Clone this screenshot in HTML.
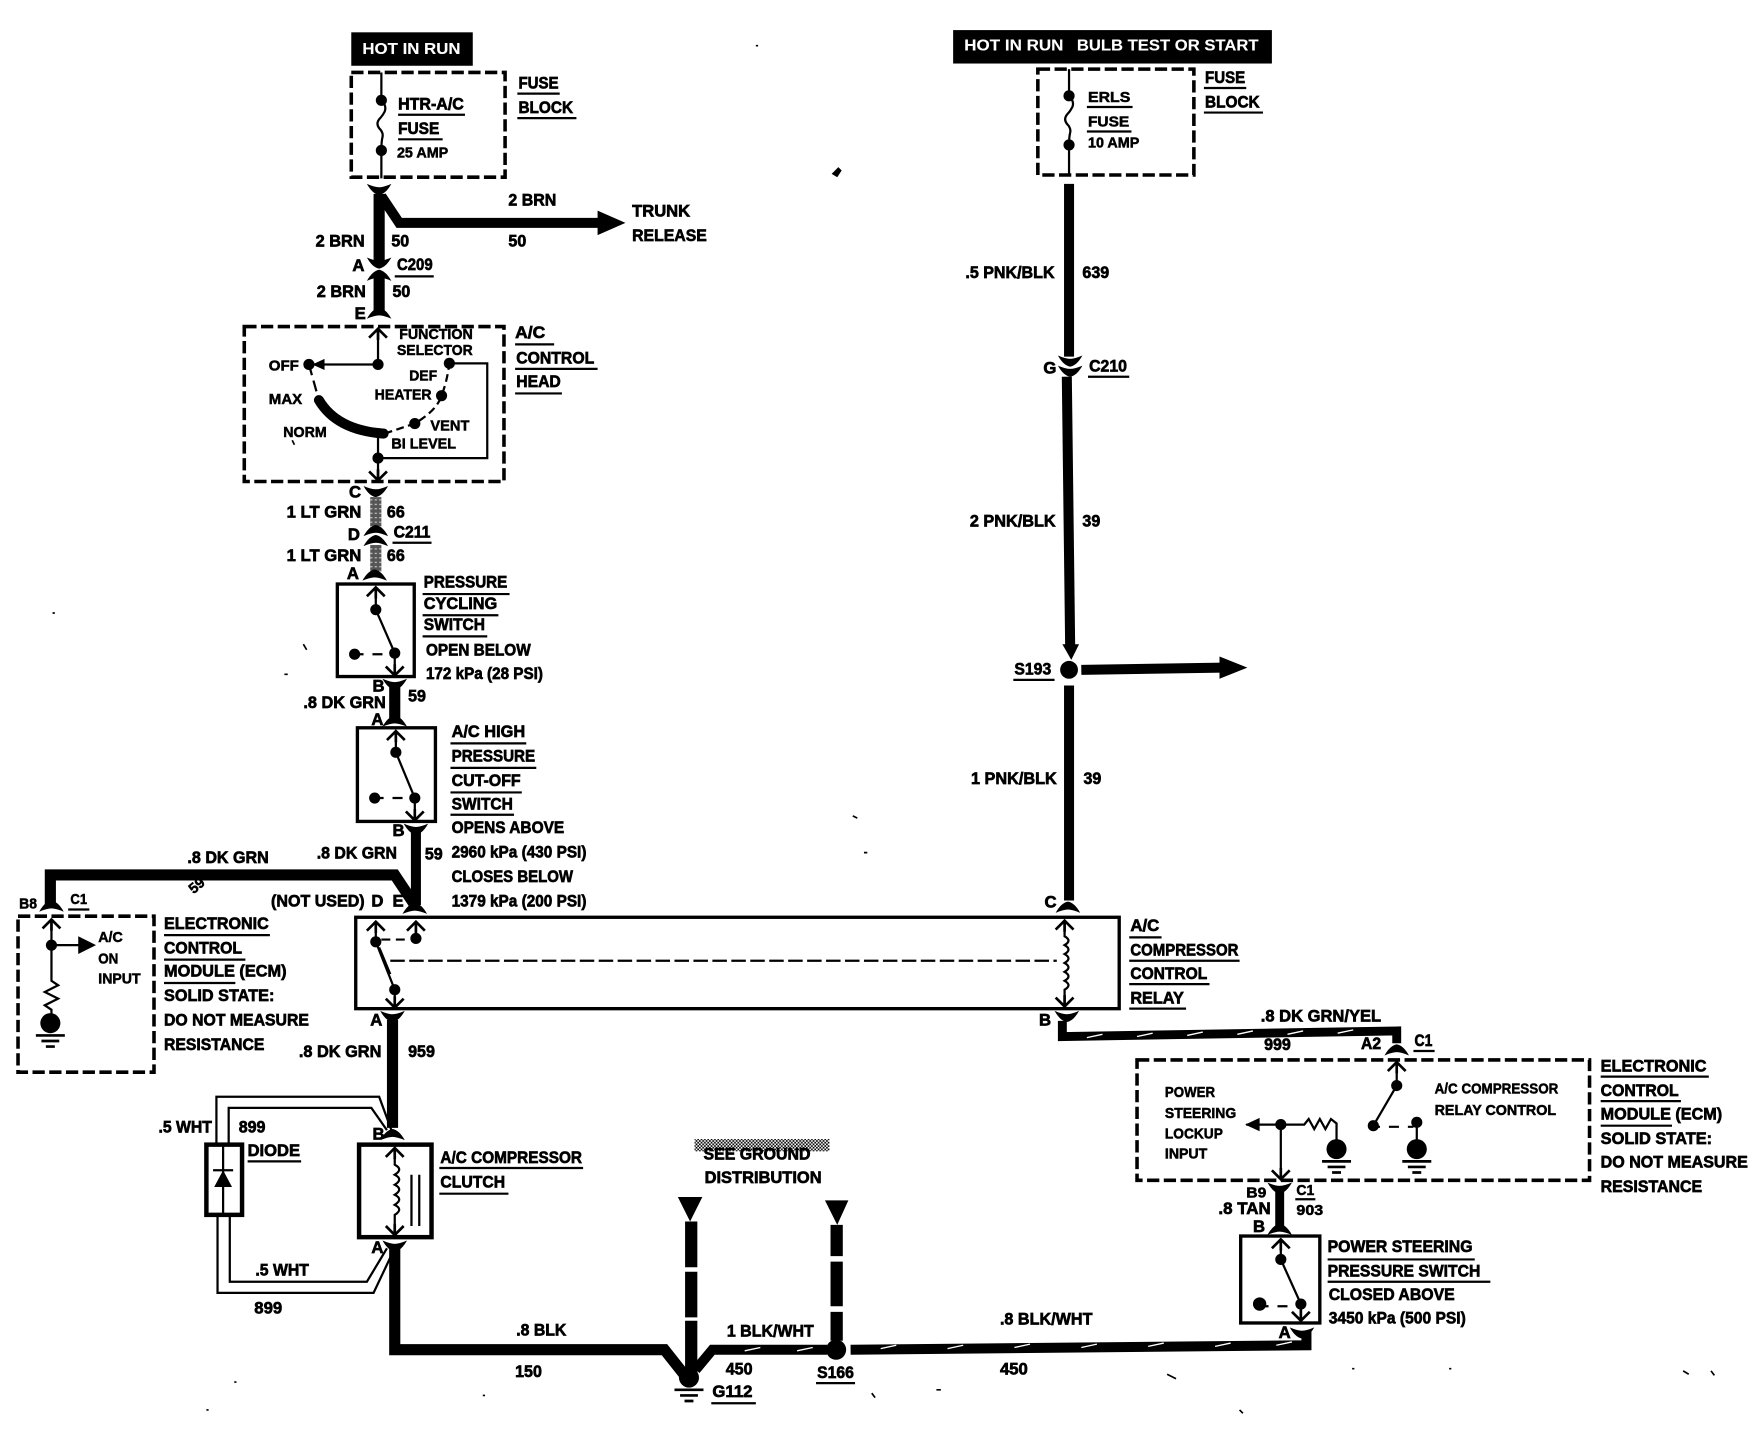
<!DOCTYPE html>
<html><head><meta charset="utf-8"><style>
html,body{margin:0;padding:0;background:#fff}
svg{display:block}
text{font-family:"Liberation Sans",sans-serif;font-weight:bold;font-size:15px;fill:#000;stroke:#000;stroke-width:.6px;transform:translateY(-.7px)}
.s{font-size:13px;stroke-width:.45px}
.w{fill:#fff;stroke:#fff;stroke-width:.1px;font-size:14px}
.t{fill:none;stroke:#000;stroke-width:2}
.d{fill:none;stroke:#000;stroke-width:3.2;stroke-dasharray:11 4}
.u{stroke:#000;stroke-width:2}
.k{fill:none;stroke:#000;stroke-linejoin:miter}
</style></head><body>
<svg xmlns="http://www.w3.org/2000/svg" width="1748" height="1440" viewBox="0 0 1568 1292">
<defs>
<path id="au" d="M-8 8L0 0L8 8M0 0V10" fill="none" stroke="#000" stroke-width="2.4"/>
<path id="ad" d="M-8 -8L0 0L8 -8M0 0V-10" fill="none" stroke="#000" stroke-width="2.4"/>
<path id="cd" d="M-11 -5Q-4 -2 0 -2Q4 -2 11 -5Q6 4 0 5Q-6 4 -11 -5Z" fill="#000"/>
<path id="cu" d="M-11 5Q-4 2 0 2Q4 2 11 5Q6 -4 0 -5Q-6 -4 -11 5Z" fill="#000"/>
<g id="gnd"><circle cx="0" cy="0" r="9" fill="#000"/><path d="M-13 11H13M-8 16H8M-4 21H4" stroke="#000" stroke-width="2.4"/></g>
<pattern id="hatch" width="4" height="4" patternUnits="userSpaceOnUse"><rect width="4" height="4" fill="#555"/><rect width="2" height="1" fill="#ccc"/></pattern>
<pattern id="chk" width="3" height="3" patternUnits="userSpaceOnUse"><rect width="3" height="3" fill="#fff"/><rect width="1.500" height="1.500" fill="#000"/><rect x="1.500" y="1.500" width="1.500" height="1.500" fill="#000"/></pattern>
</defs>

<!-- TOP LEFT -->
<rect x="315" y="29" width="109" height="30" fill="#000"/>
<text class="w" x="325" y="49" textLength="88" lengthAdjust="spacingAndGlyphs">HOT IN RUN</text>
<rect class="d" x="315" y="65" width="138" height="94"/>
<path class="t" stroke-width="2.500" d="M342 65V90M342 135V160"/>
<path class="t" stroke-width="2.500" d="M342 90q5 5 3 10q-2 4 -5 7q-3 4 0 8q4 4 3 8q-1 4 -1 12"/>
<circle cx="342" cy="90" r="5"/><circle cx="342" cy="135" r="5"/>
<text x="357" y="99" textLength="59" lengthAdjust="spacingAndGlyphs">HTR-A/C</text><line class="u" x1="357" y1="103" x2="417" y2="103"/>
<text x="357" y="121" textLength="37" lengthAdjust="spacingAndGlyphs">FUSE</text><line class="u" x1="357" y1="125" x2="397" y2="125"/>
<text class="s" x="356" y="142" textLength="46" lengthAdjust="spacingAndGlyphs">25 AMP</text>
<text x="465" y="80" textLength="36" lengthAdjust="spacingAndGlyphs">FUSE</text><line class="u" x1="464" y1="84" x2="502" y2="84"/>
<text x="465" y="102" textLength="49" lengthAdjust="spacingAndGlyphs">BLOCK</text><line class="u" x1="464" y1="106" x2="517" y2="106"/>
<use href="#cd" x="340" y="170"/>
<path class="k" stroke-width="10" d="M340 174V236"/>
<path class="k" stroke-width="9" d="M342 176L358 200H540"/>
<path d="M536 189L561 200L536 211Z"/>
<text x="283" y="222" textLength="44" lengthAdjust="spacingAndGlyphs">2 BRN</text>
<text x="351" y="222" textLength="16" lengthAdjust="spacingAndGlyphs">50</text>
<text x="456" y="185" textLength="43" lengthAdjust="spacingAndGlyphs">2 BRN</text>
<text x="456" y="222" textLength="16" lengthAdjust="spacingAndGlyphs">50</text>
<text x="567" y="195" textLength="52" lengthAdjust="spacingAndGlyphs">TRUNK</text>
<text x="567" y="217" textLength="67" lengthAdjust="spacingAndGlyphs">RELEASE</text>
<text x="316" y="244">A</text>
<text x="356" y="243" textLength="32" lengthAdjust="spacingAndGlyphs">C209</text><line class="u" x1="354" y1="248" x2="389" y2="248"/>
<use href="#cd" x="340" y="236"/><use href="#cu" x="340" y="247"/>
<path class="k" stroke-width="10" d="M340 248V280"/>
<text x="284" y="267" textLength="44" lengthAdjust="spacingAndGlyphs">2 BRN</text>
<text x="352" y="267" textLength="16" lengthAdjust="spacingAndGlyphs">50</text>
<text x="318" y="287">E</text>
<use href="#cu" x="340" y="281"/>

<!-- A/C CONTROL HEAD -->
<rect class="d" x="219" y="293" width="233" height="139"/>
<use href="#au" x="339" y="295"/>
<path class="t" d="M339 297V327H277"/>
<path d="M291 322L280 327L291 332Z"/>
<circle cx="339" cy="327" r="5"/><circle cx="277" cy="327" r="5"/>
<circle cx="403" cy="326" r="5"/><circle cx="396" cy="355" r="5"/><circle cx="372" cy="380" r="5"/>
<path class="t" d="M403 326H437V411H339"/>
<circle cx="339" cy="411" r="5"/>
<path class="t" d="M339 389V430"/>
<use href="#ad" x="339" y="431"/>
<path class="t" stroke-dasharray="10 5" d="M277 327L284 352"/>
<path class="k" stroke-width="9" stroke-linecap="round" d="M286 359Q302 386 344 389"/>
<path class="t" stroke-width="2.500" stroke-dasharray="7 4" d="M345 389L372 380Q392 368 396 355Q401 342 403 326"/>
<text class="s" x="358" y="305" textLength="66" lengthAdjust="spacingAndGlyphs">FUNCTION</text>
<text class="s" x="356" y="319" textLength="68" lengthAdjust="spacingAndGlyphs">SELECTOR</text>
<text class="s" x="241" y="333" textLength="27" lengthAdjust="spacingAndGlyphs">OFF</text>
<text class="s" x="367" y="342" textLength="25" lengthAdjust="spacingAndGlyphs">DEF</text>
<text class="s" x="336" y="359" textLength="51" lengthAdjust="spacingAndGlyphs">HEATER</text>
<text class="s" x="241" y="363" textLength="30" lengthAdjust="spacingAndGlyphs">MAX</text>
<text class="s" x="254" y="393" textLength="39" lengthAdjust="spacingAndGlyphs">NORM</text>
<text class="s" x="386" y="387" textLength="35" lengthAdjust="spacingAndGlyphs">VENT</text>
<text class="s" x="351" y="403" textLength="58" lengthAdjust="spacingAndGlyphs">BI LEVEL</text>
<text x="462" y="304" textLength="27" lengthAdjust="spacingAndGlyphs">A/C</text><line class="u" x1="462" y1="309" x2="497" y2="309"/>
<text x="463" y="327" textLength="70" lengthAdjust="spacingAndGlyphs">CONTROL</text><line class="u" x1="462" y1="331" x2="536" y2="331"/>
<text x="463" y="348" textLength="40" lengthAdjust="spacingAndGlyphs">HEAD</text><line class="u" x1="462" y1="353" x2="504" y2="353"/>

<text x="313" y="447">C</text>
<use href="#cd" x="337" y="441"/>
<rect x="332" y="446" width="10" height="28" fill="url(#hatch)"/>
<text x="257" y="465" textLength="67" lengthAdjust="spacingAndGlyphs">1 LT GRN</text>
<text x="347" y="465" textLength="16" lengthAdjust="spacingAndGlyphs">66</text>
<text x="312" y="485">D</text>
<use href="#cu" x="337" y="476"/><use href="#cu" x="337" y="485"/>
<text x="353" y="483" textLength="33" lengthAdjust="spacingAndGlyphs">C211</text><line class="u" x1="352" y1="487" x2="387" y2="487"/>
<rect x="332" y="489" width="10" height="24" fill="url(#hatch)"/>
<text x="257" y="504" textLength="67" lengthAdjust="spacingAndGlyphs">1 LT GRN</text>
<text x="347" y="504" textLength="16" lengthAdjust="spacingAndGlyphs">66</text>
<text x="311" y="520">A</text>
<use href="#cu" x="336" y="516"/>

<!-- PRESSURE CYCLING -->
<rect x="302.500" y="524" width="69" height="83" fill="none" stroke="#000" stroke-width="3"/>
<use href="#au" x="337" y="527"/>
<path class="t" d="M337 527V547M354 586V606"/>
<path class="t" stroke-width="3" d="M337 547L354 586"/>
<circle cx="337" cy="547" r="5"/><circle cx="354" cy="586" r="5"/><circle cx="318" cy="587" r="5"/>
<path class="t" stroke-dasharray="6 8 9 8 5" d="M320 587H354"/>
<use href="#ad" x="354" y="606"/>
<text x="380" y="528" textLength="75" lengthAdjust="spacingAndGlyphs">PRESSURE</text><line class="u" x1="379" y1="533" x2="457" y2="533"/>
<text x="380" y="547" textLength="66" lengthAdjust="spacingAndGlyphs">CYCLING</text><line class="u" x1="379" y1="552" x2="447" y2="552"/>
<text x="380" y="566" textLength="55" lengthAdjust="spacingAndGlyphs">SWITCH</text><line class="u" x1="379" y1="571" x2="437" y2="571"/>
<text x="382" y="589" textLength="94" lengthAdjust="spacingAndGlyphs">OPEN BELOW</text>
<text x="382" y="610" textLength="105" lengthAdjust="spacingAndGlyphs">172 kPa (28 PSI)</text>
<text x="334" y="621">B</text>
<use href="#cd" x="354" y="614"/>
<path class="k" stroke-width="10" d="M354 616V646"/>
<text x="272" y="636" textLength="74" lengthAdjust="spacingAndGlyphs">.8 DK GRN</text>
<text x="366" y="630" textLength="16" lengthAdjust="spacingAndGlyphs">59</text>
<text x="333" y="651">A</text>
<use href="#cu" x="354" y="647"/>

<!-- HIGH PRESSURE -->
<rect x="320.500" y="653" width="70" height="84" fill="none" stroke="#000" stroke-width="3"/>
<use href="#au" x="355" y="656"/>
<path class="t" d="M355 656V675M372 716V736"/>
<path class="t" stroke-width="3" d="M355 675L372 716"/>
<circle cx="355" cy="675" r="5"/><circle cx="372" cy="716" r="5"/><circle cx="336" cy="716" r="5"/>
<path class="t" stroke-dasharray="6 8 9 8 5" d="M338 716H372"/>
<use href="#ad" x="372" y="736"/>
<text x="405" y="662" textLength="66" lengthAdjust="spacingAndGlyphs">A/C HIGH</text><line class="u" x1="404" y1="667" x2="472" y2="667"/>
<text x="405" y="684" textLength="75" lengthAdjust="spacingAndGlyphs">PRESSURE</text><line class="u" x1="404" y1="689" x2="481" y2="689"/>
<text x="405" y="706" textLength="62" lengthAdjust="spacingAndGlyphs">CUT-OFF</text><line class="u" x1="404" y1="711" x2="468" y2="711"/>
<text x="405" y="727" textLength="55" lengthAdjust="spacingAndGlyphs">SWITCH</text><line class="u" x1="404" y1="731" x2="461" y2="731"/>
<text x="405" y="748" textLength="101" lengthAdjust="spacingAndGlyphs">OPENS ABOVE</text>
<text x="405" y="770" textLength="121" lengthAdjust="spacingAndGlyphs">2960 kPa (430 PSI)</text>
<text x="405" y="792" textLength="109" lengthAdjust="spacingAndGlyphs">CLOSES BELOW</text>
<text x="405" y="814" textLength="121" lengthAdjust="spacingAndGlyphs">1379 kPa (200 PSI)</text>
<text x="352" y="751">B</text>
<use href="#cd" x="373" y="744"/>
<path class="k" stroke-width="9" d="M373 746V812"/>
<text x="381" y="772" textLength="16" lengthAdjust="spacingAndGlyphs">59</text>
<text x="284" y="771" textLength="72" lengthAdjust="spacingAndGlyphs">.8 DK GRN</text>
<text x="168" y="775" textLength="73" lengthAdjust="spacingAndGlyphs">.8 DK GRN</text>
<g transform="translate(174 803) rotate(-40)"><text class="s" x="0" y="0">59</text></g>
<path class="k" stroke-width="10" d="M45 812V785H354L372 812"/>
<use href="#cu" x="46" y="813"/><use href="#cu" x="372" y="815"/>
<text class="s" x="17" y="816" textLength="16" lengthAdjust="spacingAndGlyphs">B8</text>
<text class="s" x="63" y="812" textLength="15" lengthAdjust="spacingAndGlyphs">C1</text><line class="u" x1="61" y1="816" x2="80" y2="816"/>
<text x="243" y="814" textLength="84" lengthAdjust="spacingAndGlyphs">(NOT USED)</text>
<text x="333" y="814">D</text><text x="352" y="814">E</text>

<!-- LEFT ECM -->
<rect class="d" x="16" y="822" width="122" height="140"/>
<use href="#au" x="46" y="825"/>
<path class="t" d="M46 827V880l6 4l-12 6l12 6l-12 6l6 4V918M46 848H72"/>
<path d="M70 840L86 848L70 856Z"/>
<circle cx="46" cy="848" r="5"/>
<use href="#gnd" x="45" y="918"/>
<text class="s" x="88" y="846" textLength="22" lengthAdjust="spacingAndGlyphs">A/C</text>
<text class="s" x="88" y="865" textLength="18" lengthAdjust="spacingAndGlyphs">ON</text>
<text class="s" x="88" y="883" textLength="38" lengthAdjust="spacingAndGlyphs">INPUT</text>
<text x="147" y="834" textLength="94" lengthAdjust="spacingAndGlyphs">ELECTRONIC</text><line class="u" x1="147" y1="839" x2="242" y2="839"/>
<text x="147" y="856" textLength="70" lengthAdjust="spacingAndGlyphs">CONTROL</text><line class="u" x1="147" y1="861" x2="220" y2="861"/>
<text x="147" y="877" textLength="110" lengthAdjust="spacingAndGlyphs">MODULE (ECM)</text><line class="u" x1="147" y1="882" x2="211" y2="882"/>
<text x="147" y="899" textLength="99" lengthAdjust="spacingAndGlyphs">SOLID STATE:</text>
<text x="147" y="921" textLength="130" lengthAdjust="spacingAndGlyphs">DO NOT MEASURE</text>
<text x="147" y="943" textLength="90" lengthAdjust="spacingAndGlyphs">RESISTANCE</text>

<!-- RELAY -->
<rect x="319" y="823" width="685" height="82" fill="none" stroke="#000" stroke-width="3"/>
<use href="#au" x="337" y="827"/><use href="#au" x="373" y="827"/>
<path class="t" d="M337 827V845L354 888V904M373 827V842"/>
<circle cx="337" cy="845" r="5"/><circle cx="373" cy="842" r="5"/><circle cx="354" cy="888" r="5"/>
<path class="t" stroke-width="3" d="M340 850L350 874"/>
<path class="t" stroke-dasharray="8 5" d="M342 843H368"/>
<path class="t" stroke-dasharray="13 4" d="M350 862H948"/>
<use href="#ad" x="354" y="904"/>
<use href="#au" x="955" y="826"/><use href="#ad" x="955" y="903"/>
<path class="t" d="M955 828V840q7 4 0 8q7 4 0 8q7 4 0 8q7 4 0 8q7 4 0 8q7 4 0 8V903"/>
<text x="332" y="921">A</text>
<use href="#cd" x="352" y="912"/>
<path class="k" stroke-width="10" d="M352 915V1012"/>
<text x="268" y="949" textLength="74" lengthAdjust="spacingAndGlyphs">.8 DK GRN</text>
<text x="366" y="949" textLength="24" lengthAdjust="spacingAndGlyphs">959</text>
<text x="1014" y="836" textLength="26" lengthAdjust="spacingAndGlyphs">A/C</text><line class="u" x1="1013" y1="841" x2="1042" y2="841"/>
<text x="1014" y="858" textLength="97" lengthAdjust="spacingAndGlyphs">COMPRESSOR</text><line class="u" x1="1013" y1="862" x2="1112" y2="862"/>
<text x="1014" y="879" textLength="69" lengthAdjust="spacingAndGlyphs">CONTROL</text><line class="u" x1="1013" y1="883" x2="1085" y2="883"/>
<text x="1014" y="901" textLength="48" lengthAdjust="spacingAndGlyphs">RELAY</text><line class="u" x1="1013" y1="905" x2="1064" y2="905"/>

<!-- DIODE + CLUTCH -->
<path class="t" stroke-width="2.500" d="M194 1026V984H340L351 1014M205 1026V994H333L347 1014"/>
<rect x="185" y="1027" width="32" height="63" fill="none" stroke="#000" stroke-width="4"/>
<path class="t" stroke-width="3" d="M200 1027V1090"/>
<path d="M192 1065L200 1050L208 1065Z"/><path class="t" stroke-width="3" d="M191 1050H209"/>
<text x="142" y="1017" textLength="48" lengthAdjust="spacingAndGlyphs">.5 WHT</text>
<text x="214" y="1017" textLength="24" lengthAdjust="spacingAndGlyphs">899</text>
<text x="222" y="1038" textLength="47" lengthAdjust="spacingAndGlyphs">DIODE</text><line class="u" x1="222" y1="1042" x2="270" y2="1042"/>
<path class="t" stroke-width="2.500" d="M195 1090V1160H335L353 1122M206 1090V1150H329L347 1120"/>
<text x="229" y="1145" textLength="48" lengthAdjust="spacingAndGlyphs">.5 WHT</text>
<text x="228" y="1179" textLength="25" lengthAdjust="spacingAndGlyphs">899</text>
<text x="334" y="1023">B</text>
<use href="#cu" x="352" y="1018"/>
<rect x="322" y="1027" width="65" height="83" fill="none" stroke="#000" stroke-width="4"/>
<use href="#au" x="354" y="1030"/><use href="#ad" x="354" y="1108"/>
<path class="t" d="M354 1030V1045q8 4 0 9q8 4 0 9q8 4 0 9q8 4 0 9q8 4 0 9V1108"/>
<path class="t" d="M369 1054V1100M376 1054V1100"/>
<text x="333" y="1125">A</text>
<text x="395" y="1044" textLength="127" lengthAdjust="spacingAndGlyphs">A/C COMPRESSOR</text><line class="u" x1="394" y1="1048" x2="523" y2="1048"/>
<text x="395" y="1066" textLength="58" lengthAdjust="spacingAndGlyphs">CLUTCH</text><line class="u" x1="394" y1="1071" x2="456" y2="1071"/>
<use href="#cd" x="354" y="1118"/>
<path class="k" stroke-width="10" d="M354 1120V1211H596L615 1235"/>
<text x="463" y="1199" textLength="45" lengthAdjust="spacingAndGlyphs">.8 BLK</text>
<text x="462" y="1236" textLength="24" lengthAdjust="spacingAndGlyphs">150</text>

<!-- GROUND -->
<rect x="623" y="1022" width="121" height="11" fill="url(#chk)"/>
<text x="631" y="1041" textLength="96" lengthAdjust="spacingAndGlyphs">SEE GROUND</text>
<text x="632" y="1062" textLength="105" lengthAdjust="spacingAndGlyphs">DISTRIBUTION</text>
<path d="M608 1074H630L619 1096Z"/><path d="M740 1077H761L751 1099Z"/>
<path class="k" stroke-width="11" d="M620 1096V1137M620 1141V1182M620 1185V1232"/>
<path class="k" stroke-width="11" d="M750.500 1099V1127M750.500 1132V1172M750.500 1177V1203"/>
<path class="k" stroke-width="9" d="M624 1229L639 1211H742"/>
<use href="#gnd" x="618" y="1236"/>
<text x="639" y="1254" textLength="36" lengthAdjust="spacingAndGlyphs">G112</text><line class="u" x1="638" y1="1259" x2="678" y2="1259"/>
<text x="651" y="1234" textLength="24" lengthAdjust="spacingAndGlyphs">450</text>
<text x="652" y="1200" textLength="78" lengthAdjust="spacingAndGlyphs">1 BLK/WHT</text>
<circle cx="750" cy="1211" r="9"/>
<text x="733" y="1237" textLength="33" lengthAdjust="spacingAndGlyphs">S166</text><line class="u" x1="732" y1="1241" x2="767" y2="1241"/>
<path class="k" stroke-width="9" d="M763 1211L1172 1207V1195"/>
<path fill="none" stroke="#fff" stroke-width="1.200" d="M668 1212l14 -3M715 1212l14 -3M790 1210l14 -3M850 1210l14 -3M910 1209l14 -3M970 1209l14 -3M1030 1208l14 -3M1090 1208l14 -3M1145 1207l14 -3"/>
<text x="897" y="1189" textLength="83" lengthAdjust="spacingAndGlyphs">.8 BLK/WHT</text>
<text x="897" y="1234" textLength="25" lengthAdjust="spacingAndGlyphs">450</text>
<text x="1147" y="1201">A</text>
<use href="#cd" x="1168" y="1196"/>

<!-- TOP RIGHT -->
<rect x="855" y="27" width="286" height="30" fill="#000"/>
<text class="w" x="865" y="46" textLength="89" lengthAdjust="spacingAndGlyphs">HOT IN RUN</text>
<text class="w" x="966" y="46" textLength="163" lengthAdjust="spacingAndGlyphs">BULB TEST OR START</text>
<rect class="d" x="931" y="62" width="140" height="95"/>
<path class="t" stroke-width="2.500" d="M959 62V86M959 130V158"/>
<path class="t" stroke-width="2.500" d="M959 86q5 5 3 10q-2 4 -5 7q-3 4 0 8q4 4 3 8q-1 4 -1 11"/>
<circle cx="959" cy="86" r="5"/><circle cx="959" cy="130" r="5"/>
<text class="s" x="976" y="92" textLength="38" lengthAdjust="spacingAndGlyphs">ERLS</text><line class="u" x1="975" y1="96" x2="1016" y2="96"/>
<text class="s" x="976" y="114" textLength="37" lengthAdjust="spacingAndGlyphs">FUSE</text><line class="u" x1="975" y1="118" x2="1015" y2="118"/>
<text class="s" x="976" y="133" textLength="46" lengthAdjust="spacingAndGlyphs">10 AMP</text>
<text x="1081" y="75" textLength="36" lengthAdjust="spacingAndGlyphs">FUSE</text><line class="u" x1="1080" y1="79" x2="1118" y2="79"/>
<text x="1081" y="97" textLength="49" lengthAdjust="spacingAndGlyphs">BLOCK</text><line class="u" x1="1080" y1="101" x2="1133" y2="101"/>
<path class="k" stroke-width="9" d="M959 165V320"/>
<text x="866" y="250" textLength="80" lengthAdjust="spacingAndGlyphs">.5 PNK/BLK</text>
<text x="971" y="250" textLength="24" lengthAdjust="spacingAndGlyphs">639</text>
<use href="#cd" x="960" y="324"/><use href="#cd" x="960" y="333"/>
<text x="936" y="336">G</text>
<text x="977" y="334" textLength="34" lengthAdjust="spacingAndGlyphs">C210</text><line class="u" x1="976" y1="338" x2="1013" y2="338"/>
<path class="k" stroke-width="9" d="M957 338L960 580"/>
<path d="M953 578L968 578L961 592Z"/>
<text x="870" y="473" textLength="77" lengthAdjust="spacingAndGlyphs">2 PNK/BLK</text>
<text x="971" y="473" textLength="16" lengthAdjust="spacingAndGlyphs">39</text>
<circle cx="959" cy="601" r="8"/>
<text x="910" y="606" textLength="33" lengthAdjust="spacingAndGlyphs">S193</text><line class="u" x1="909" y1="610" x2="946" y2="610"/>
<path class="k" stroke-width="9" d="M970 601L1097 599"/>
<path d="M1094 589L1119 599L1094 609Z"/>
<path class="k" stroke-width="9" d="M959 615V808"/>
<text x="871" y="704" textLength="77" lengthAdjust="spacingAndGlyphs">1 PNK/BLK</text>
<text x="972" y="704" textLength="16" lengthAdjust="spacingAndGlyphs">39</text>
<text x="937" y="815">C</text>
<use href="#cu" x="958" y="814"/>

<!-- RIGHT ECM -->
<text x="932" y="921">B</text>
<use href="#cd" x="957" y="912"/>
<path class="k" stroke-width="8" d="M953 916V930L1253 925V936"/>
<path fill="none" stroke="#fff" stroke-width="1.200" d="M975 931l14 -3M1020 930l14 -3M1065 929l14 -3M1110 928l14 -3M1155 928l14 -3M1200 927l14 -3"/>
<text x="1131" y="917" textLength="108" lengthAdjust="spacingAndGlyphs">.8 DK GRN/YEL</text>
<text x="1134" y="943" textLength="24" lengthAdjust="spacingAndGlyphs">999</text>
<text x="1221" y="942" textLength="18" lengthAdjust="spacingAndGlyphs">A2</text>
<text x="1269" y="939" textLength="16" lengthAdjust="spacingAndGlyphs">C1</text><line class="u" x1="1268" y1="943" x2="1287" y2="943"/>
<use href="#cu" x="1253" y="942"/>
<rect class="d" x="1020" y="951" width="406" height="108"/>
<use href="#au" x="1253" y="953"/>
<path class="t" d="M1253 953V974"/>
<path class="t" stroke-width="3.500" d="M1253 974L1232 1010"/>
<circle cx="1253" cy="974" r="5"/><circle cx="1232" cy="1010" r="5"/><circle cx="1271" cy="1007" r="5"/>
<path class="t" stroke-width="3" stroke-dasharray="6 8 9 8 5" d="M1232 1011H1268"/>
<path class="t" d="M1271 1007V1030"/>
<use href="#gnd" x="1271" y="1031"/>
<path class="t" d="M1118 1009H1170l4 -5l5 9l5 -9l5 9l5 -9l5 4V1030"/>
<path d="M1130 1003L1117 1009L1130 1015Z"/>
<circle cx="1149" cy="1009" r="5"/>
<use href="#gnd" x="1199" y="1031"/>
<path class="t" d="M1149 1009V1058"/>
<use href="#ad" x="1149" y="1058"/>
<text class="s" x="1045" y="985" textLength="45" lengthAdjust="spacingAndGlyphs">POWER</text>
<text class="s" x="1045" y="1004" textLength="64" lengthAdjust="spacingAndGlyphs">STEERING</text>
<text class="s" x="1045" y="1022" textLength="52" lengthAdjust="spacingAndGlyphs">LOCKUP</text>
<text class="s" x="1045" y="1040" textLength="38" lengthAdjust="spacingAndGlyphs">INPUT</text>
<text class="s" x="1287" y="982" textLength="111" lengthAdjust="spacingAndGlyphs">A/C COMPRESSOR</text>
<text class="s" x="1287" y="1001" textLength="109" lengthAdjust="spacingAndGlyphs">RELAY CONTROL</text>
<text x="1436" y="962" textLength="95" lengthAdjust="spacingAndGlyphs">ELECTRONIC</text><line class="u" x1="1436" y1="966" x2="1533" y2="966"/>
<text x="1436" y="984" textLength="70" lengthAdjust="spacingAndGlyphs">CONTROL</text><line class="u" x1="1436" y1="988" x2="1508" y2="988"/>
<text x="1436" y="1005" textLength="109" lengthAdjust="spacingAndGlyphs">MODULE (ECM)</text><line class="u" x1="1436" y1="1010" x2="1500" y2="1010"/>
<text x="1436" y="1027" textLength="100" lengthAdjust="spacingAndGlyphs">SOLID STATE:</text>
<text x="1436" y="1048" textLength="132" lengthAdjust="spacingAndGlyphs">DO NOT MEASURE</text>
<text x="1436" y="1070" textLength="91" lengthAdjust="spacingAndGlyphs">RESISTANCE</text>
<use href="#cd" x="1148" y="1066"/>
<path class="k" stroke-width="8" d="M1148 1068V1104"/>
<text class="s" x="1118" y="1075" textLength="18" lengthAdjust="spacingAndGlyphs">B9</text>
<text class="s" x="1163" y="1073" textLength="16" lengthAdjust="spacingAndGlyphs">C1</text><line class="u" x1="1162" y1="1076" x2="1180" y2="1076"/>
<text x="1093" y="1090" textLength="47" lengthAdjust="spacingAndGlyphs">.8 TAN</text>
<text class="s" x="1163" y="1091" textLength="24" lengthAdjust="spacingAndGlyphs">903</text>
<text x="1124" y="1106">B</text>
<use href="#cu" x="1148" y="1103"/>
<rect x="1113" y="1109" width="71" height="78" fill="none" stroke="#000" stroke-width="3"/>
<use href="#au" x="1149" y="1112"/>
<path class="t" d="M1149 1112V1130"/>
<path class="t" stroke-width="3" d="M1149 1130L1167 1170V1185"/>
<circle cx="1149" cy="1130" r="5"/><circle cx="1167" cy="1170" r="5"/><circle cx="1130" cy="1170" r="6"/>
<path class="t" stroke-dasharray="6 8 9 8 5" d="M1132 1172H1166"/>
<use href="#ad" x="1167" y="1185"/>
<text x="1191" y="1124" textLength="130" lengthAdjust="spacingAndGlyphs">POWER STEERING</text><line class="u" x1="1191" y1="1130" x2="1323" y2="1130"/>
<text x="1191" y="1146" textLength="137" lengthAdjust="spacingAndGlyphs">PRESSURE SWITCH</text><line class="u" x1="1191" y1="1150" x2="1337" y2="1150"/>
<text x="1192" y="1167" textLength="113" lengthAdjust="spacingAndGlyphs">CLOSED ABOVE</text>
<text x="1192" y="1188" textLength="123" lengthAdjust="spacingAndGlyphs">3450 kPa (500 PSI)</text>

<!-- specks -->
<path stroke="#000" stroke-width="1.500" fill="none" d="M678 41h2M272 578l3 5M262 395l2 4M1047 1233l8 4M1213 1228h2M1300 1228h2M1510 1230l5 3M1535 1230l3 4M1112 1265l3 3M782 1250l3 4M775 765h3M765 732l4 2M840 1247h4M433 1252h2M210 1240h2M185 1265h2M47 550h2M255 605h3"/>
<path d="M746 156l6 -6l3 3l-4 6Z"/>
</svg>
</body></html>
